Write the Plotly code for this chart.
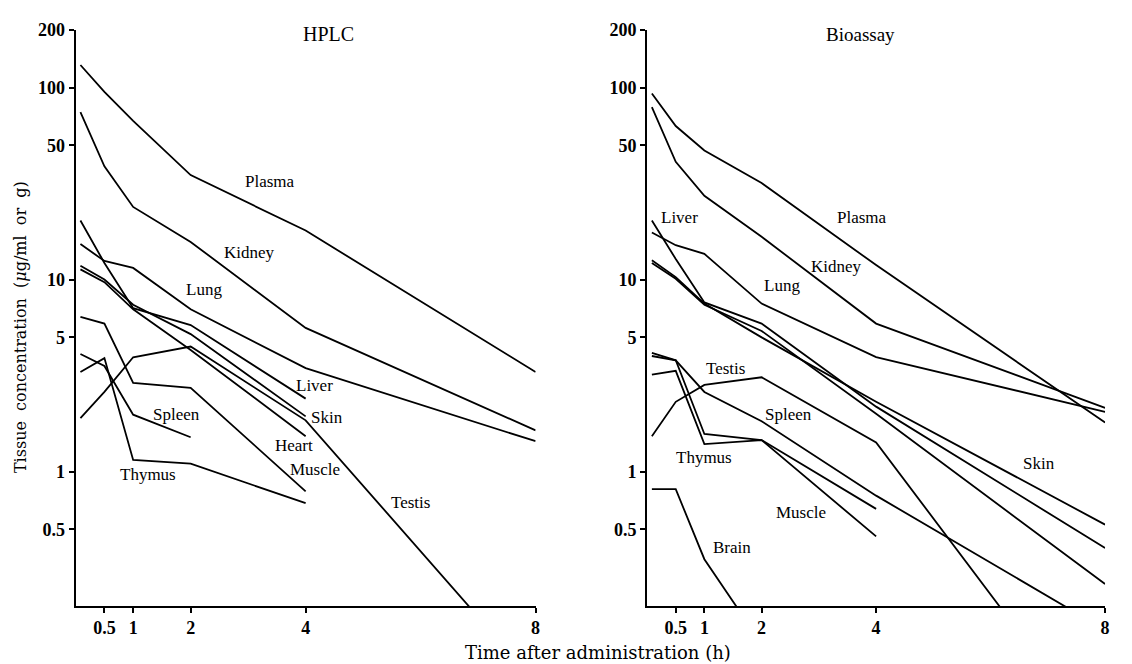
import math
import plotly.graph_objects as go

# ---------------- data ----------------
times = [0.083, 0.5, 1, 2, 4, 8]

# HPLC panel
hplc_plasma = [131, 95, 67, 35, 18, 3.3]
hplc_kidney = [74.5, 38.9, 23.9, 15.7, 5.6, 1.64]
hplc_lung = [15.3, 12.5, 11.5, 7.0, 3.46, 1.44]
hplc_liver = [20.3, 12.2, 7.1, 5.8, 2.4]
hplc_skin = [11.8, 10.0, 7.4, 5.2, 1.94]
hplc_heart = [11.3, 9.7, 7.0, 4.3, 1.53]
hplc_muscle = [6.4, 5.9, 2.9, 2.73, 0.79]
hplc_spleen = [4.1, 3.55, 1.98, 1.51]
hplc_thymus = [3.3, 3.9, 1.15, 1.1, 0.685]
hplc_testis = [1.9, 2.6, 3.94, 4.48, 1.85, 0.08]

# Bioassay panel
bio_plasma = [93, 63, 47, 31.8, 11.9, 1.8]
bio_kidney = [79, 41, 27.3, 16.7, 5.9, 2.15]
bio_lung = [17.6, 15.1, 13.6, 7.5, 3.95, 2.05]
bio_liver = [20.3, 12.8, 7.6, 5.9, 2.18, 0.40]
bio_skin = [12.6, 10.3, 7.5, 5.0, 2.31, 0.53]
bio_heart = [12.2, 10.1, 7.4, 5.4, 2.0, 0.26]
bio_testis = [1.53, 2.31, 2.83, 3.1, 1.42, 0.037]
bio_spleen = [4.0, 3.8, 2.6, 1.83, 0.75, 0.15]
bio_muscle = [4.15, 3.8, 1.57, 1.46, 0.64]
bio_thymus = [3.2, 3.35, 1.39, 1.46, 0.46]
bio_brain = [0.81, 0.81, 0.35, 0.127]

x_tickvals = [0.5, 1, 2, 4, 8]
x_ticktext = ["0.5", "1", "2", "4", "8"]
y_tickvals = [0.5, 1, 5, 10, 50, 100, 200]
y_ticktext = ["0.5", "1", "5", "10", "50", "100", "200"]

hplc_series = [
    ("Plasma", hplc_plasma), ("Kidney", hplc_kidney), ("Lung", hplc_lung),
    ("Liver", hplc_liver), ("Skin", hplc_skin), ("Heart", hplc_heart),
    ("Muscle", hplc_muscle), ("Spleen", hplc_spleen), ("Thymus", hplc_thymus),
    ("Testis", hplc_testis),
]
bio_series = [
    ("Plasma", bio_plasma), ("Kidney", bio_kidney), ("Lung", bio_lung),
    ("Liver", bio_liver), ("Skin", bio_skin), ("Heart", bio_heart),
    ("Testis", bio_testis), ("Spleen", bio_spleen), ("Muscle", bio_muscle),
    ("Thymus", bio_thymus), ("Brain", bio_brain),
]

# label positions (hours, concentration)
hplc_labels = [
    ("Plasma", 3.38, 32.6), ("Kidney", 3.03, 13.9), ("Lung", 2.23, 8.9),
    ("Liver", 4.16, 2.82), ("Skin", 4.38, 1.91), ("Heart", 3.79, 1.37),
    ("Muscle", 4.16, 1.02), ("Testis", 5.82, 0.69), ("Spleen", 1.75, 1.98),
    ("Thymus", 1.25, 0.97),
]
bio_labels = [
    ("Liver", 0.557, 21.0), ("Plasma", 3.76, 21.0), ("Kidney", 3.30, 11.7),
    ("Lung", 2.35, 9.3), ("Testis", 1.37, 3.45), ("Spleen", 2.47, 1.98),
    ("Thymus", 0.99, 1.19), ("Muscle", 2.68, 0.61), ("Skin", 6.85, 1.10),
    ("Heart", 8.03, 0.354), ("Brain", 1.48, 0.403),
]

W, H = 1132, 664
FONT = "Liberation Serif"
WIDE = "DejaVu Serif"
LINE = dict(color="black", width=1.8)

fig = go.Figure()
for name, vals in hplc_series:
    fig.add_trace(go.Scatter(x=times[:len(vals)], y=vals, mode="lines",
                             line=LINE, name=name, xaxis="x", yaxis="y",
                             showlegend=False))
for name, vals in bio_series:
    fig.add_trace(go.Scatter(x=times[:len(vals)], y=vals, mode="lines",
                             line=LINE, name=name, xaxis="x2", yaxis="y2",
                             showlegend=False))

annotations = []
for labels, xr, yr in [(hplc_labels, "x", "y"), (bio_labels, "x2", "y2")]:
    for txt, x, y in labels:
        annotations.append(dict(text=txt, x=x, y=math.log10(y),
                                xref=xr, yref=yr, showarrow=False,
                                xanchor="center", yanchor="middle",
                                font=dict(family=FONT, size=17, color="black")))


def paper(px, py):
    return px / W, 1 - py / H


for txt, (px, py), size in [("HPLC", (330, 24), 20), ("Bioassay", (864, 25), 19)]:
    x, y = paper(px, py)
    annotations.append(dict(text=txt, x=x, y=y, xref="paper", yref="paper",
                            showarrow=False, xanchor="center", yanchor="middle",
                            font=dict(family=FONT, size=size, color="black")))

x, y = paper(601, 652)
annotations.append(dict(text="Time after administration (h)", x=x, y=y,
                        xref="paper", yref="paper", showarrow=False,
                        xanchor="center", yanchor="middle",
                        font=dict(family=WIDE, size=18, color="black")))
x, y = paper(20, 322)
annotations.append(dict(text="Tissue&nbsp; concentration&nbsp; (<i>μ</i>g/ml&nbsp; or&nbsp; g)",
                        x=x, y=y,
                        xref="paper", yref="paper", showarrow=False, textangle=-90,
                        xanchor="center", yanchor="middle",
                        font=dict(family=WIDE, size=16, color="black")))

xax = dict(range=[0, 8], tickvals=x_tickvals,
           ticktext=["<b>%s</b>" % t for t in x_ticktext],
           showline=True, linecolor="black", linewidth=2, ticks="outside",
           ticklen=5, tickwidth=1.5, tickcolor="black", showgrid=False,
           zeroline=False, mirror=False,
           tickfont=dict(family=FONT, size=18, color="black"))
yax = dict(type="log", range=[-0.69897, 2.30103], tickvals=y_tickvals,
           ticktext=["<b>%s</b>" % t for t in y_ticktext],
           showline=True, linecolor="black", linewidth=2,
           ticks="outside", ticklen=5, tickwidth=1.5, tickcolor="black",
           showgrid=False, zeroline=False, mirror=False,
           tickfont=dict(family=FONT, size=18, color="black"))

ydom = [1 - 605 / H, 1 - 20 / H]
fig.update_layout(
    width=W, height=H,
    margin=dict(l=0, r=0, t=0, b=0),
    paper_bgcolor="white", plot_bgcolor="white",
    xaxis=dict(xax, domain=[76 / W, 538 / W], anchor="y"),
    yaxis=dict(yax, domain=ydom, anchor="x"),
    xaxis2=dict(xax, domain=[650 / W, 1110 / W], anchor="y2"),
    yaxis2=dict(yax, domain=ydom, anchor="x2"),
    annotations=annotations,
    showlegend=False,
)

fig.write_html("out.html")
